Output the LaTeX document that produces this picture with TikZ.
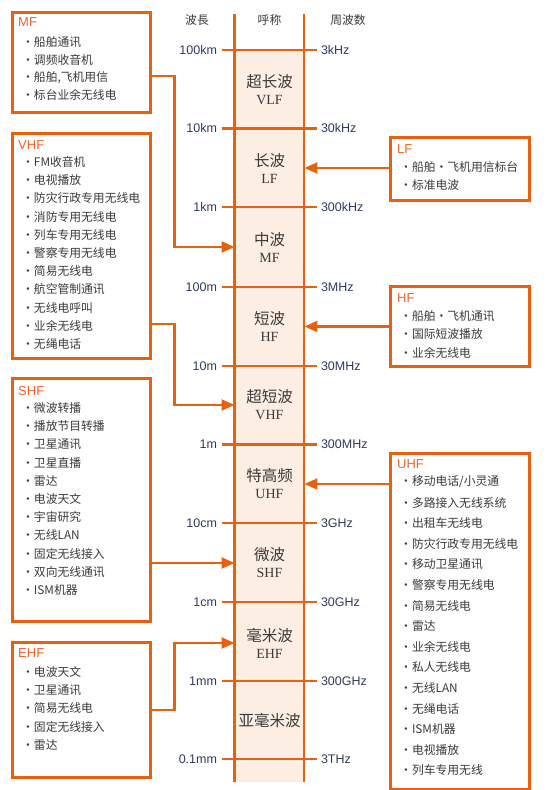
\documentclass[tikz,border=0pt]{standalone}
\usepackage{fontspec}
\setmainfont{Liberation Sans}
\newfontfamily\cjk{Noto Sans CJK SC}
\newfontfamily\serifl{Liberation Serif}
\usetikzlibrary{arrows.meta}
\definecolor{org}{HTML}{E8610E}
\definecolor{bandfill}{HTML}{FDEEE3}
\definecolor{ttl}{HTML}{F0642A}
\definecolor{txt}{HTML}{3A3A3A}
\definecolor{num}{HTML}{2F3B5C}
\begin{document}
\begin{tikzpicture}[x=1pt,y=-1pt,
  infobox/.style={draw=org,line width=2.6pt,inner sep=0,anchor=north west},
  ttlstyle/.style={anchor=west,inner sep=0,text=ttl,font=\fontsize{13}{13}\selectfont},
  itemstyle/.style={anchor=west,inner sep=0,text=txt,font=\cjk\fontsize{11.8}{11.8}\selectfont},
  hdr/.style={inner sep=0,text=txt,font=\cjk\fontsize{11.8}{11.8}\selectfont},
  numL/.style={anchor=east,inner xsep=5pt,inner ysep=0,outer sep=0,text=num,font=\fontsize{12.5}{12.5}\selectfont},
  numR/.style={anchor=west,inner xsep=4pt,inner ysep=0,outer sep=0,text=num,font=\fontsize{12.5}{12.5}\selectfont},
  tick/.style={draw=org,line width=2.6pt},
  colline/.style={draw=org,line width=2.6pt},
  bandname/.style={minimum width=69.5pt,inner sep=0,align=center,text=txt,
     font=\cjk\fontsize{15.5}{18}\selectfont},
  conn/.style={draw=org,line width=2.3pt,-{Triangle[length=13pt,width=11pt]}}
]
\useasboundingbox (0,0) rectangle (550,790);

% column fill
\fill[bandfill] (234.5,50) rectangle (304,782);

% header labels
\node[hdr] (h1) at (197,20) {波長};
\node[hdr] (h2) at (269.5,20) {呼称};
\node[hdr] (h3) at (348,20) {周波数};

% ticks and labels
\foreach \y/\w/\f [count=\i] in {50/100km/3kHz, 128.5/10km/30kHz, 207/1km/300kHz,
   287/100m/3MHz, 366/10m/30MHz, 444.5/1m/300MHz, 523/10cm/3GHz, 602/1cm/30GHz,
   681/1mm/300GHz, 759/0.1mm/3THz}{
  \node[numL] (wl\i) at (222,\y) {\w};
  \node[numR] (fq\i) at (317,\y) {\f};
  \draw[tick] (wl\i.east) -- (fq\i.west);
}

% column side lines
\draw[colline] (234.5,14) -- (234.5,782);
\draw[colline] (304,14) -- (304,782);

% band names
\newcommand{\latb}[1]{{\serifl\fontsize{14}{14}\selectfont #1}}
\node[bandname,minimum height=78pt] (vlf) at (269.5,89.5) {超长波\\[-1pt]\latb{VLF}};
\node[bandname,minimum height=78pt] (lf) at (269.5,168) {长波\\[-1pt]\latb{LF}};
\node[bandname,minimum height=78pt] (mf) at (269.5,247) {中波\\[-1pt]\latb{MF}};
\node[bandname,minimum height=78pt] (hf) at (269.5,326.5) {短波\\[-1pt]\latb{HF}};
\node[bandname,minimum height=78pt] (vhf) at (269.5,405) {超短波\\[-1pt]\latb{VHF}};
\node[bandname,minimum height=78pt] (uhf) at (269.5,484) {特高频\\[-1pt]\latb{UHF}};
\node[bandname,minimum height=78pt] (shf) at (269.5,563) {微波\\[-1pt]\latb{SHF}};
\node[bandname,minimum height=78pt] (ehf) at (269.5,643) {毫米波\\[-1pt]\latb{EHF}};
\node[bandname,minimum height=78pt] (smm) at (269.5,721) {亚毫米波};

% ---- left boxes ----
\node[infobox,minimum width=138pt,minimum height=100pt] (mfbox) at (11,11) {};
\node[ttlstyle] (mft) at (18,22.5) {MF};
\foreach \t [count=\i] in {船舶通讯,调频收音机,{船舶,飞机用信},标台业余无线电}
  \node[itemstyle] (mfi\i) at (22,{42+(\i-1)*17.7}) {・\t};

\node[infobox,minimum width=138pt,minimum height=225pt] (vhfbox) at (11,132) {};
\node[ttlstyle] (vhft) at (18,145) {VHF};
\foreach \t [count=\i] in {FM收音机,电视播放,防灾行政专用无线电,消防专用无线电,列车专用无线电,警察专用无线电,简易无线电,航空管制通讯,无线电呼叫,业余无线电,无绳电话}
  \node[itemstyle] (vhfi\i) at (22,{162+(\i-1)*18.2}) {・\t};

\node[infobox,minimum width=138pt,minimum height=243pt] (shfbox) at (11,377) {};
\node[ttlstyle] (shft) at (18,391) {SHF};
\foreach \t [count=\i] in {微波转播,播放节目转播,卫星通讯,卫星直播,雷达,电波天文,宇宙研究,无线LAN,固定无线接入,双向无线通讯,ISM机器}
  \node[itemstyle] (shfi\i) at (22,{408+(\i-1)*18.2}) {・\t};

\node[infobox,minimum width=138pt,minimum height=135pt] (ehfbox) at (11,641) {};
\node[ttlstyle] (ehft) at (18,653.5) {EHF};
\foreach \t [count=\i] in {电波天文,卫星通讯,简易无线电,固定无线接入,雷达}
  \node[itemstyle] (ehfi\i) at (22,{672+(\i-1)*18.25}) {・\t};

% ---- right boxes ----
\node[infobox,minimum width=139pt,minimum height=63pt] (lfbox) at (389,136) {};
\node[ttlstyle] (lft) at (397,149) {LF};
\foreach \t [count=\i] in {船舶・飞机用信标台,标准电波}
  \node[itemstyle] (lfi\i) at (400,{167+(\i-1)*18}) {・\t};

\node[infobox,minimum width=139pt,minimum height=80pt] (hfbox) at (389,285) {};
\node[ttlstyle] (hft) at (397,298) {HF};
\foreach \t [count=\i] in {船舶・飞机通讯,国际短波播放,业余无线电}
  \node[itemstyle] (hfi\i) at (400,{316+(\i-1)*18.5}) {・\t};

\node[infobox,minimum width=139pt,minimum height=336pt] (uhfbox) at (389,452) {};
\node[ttlstyle] (uhft) at (397,464) {UHF};
\foreach \t [count=\i] in {移动电话/小灵通,多路接入无线系统,出租车无线电,防灾行政专用无线电,移动卫星通讯,警察专用无线电,简易无线电,雷达,业余无线电,私人无线电,无线LAN,无绳电话,ISM机器,电视播放,列车专用无线}
  \node[itemstyle] (uhfi\i) at (400,{482+(\i-1)*20.6}) {・\t};

% ---- connectors ----
\draw[conn] ([yshift=-14pt]mfbox.east) -- ++(23,0) |- (mf.west);
\draw[conn] ([yshift=-78.5pt]vhfbox.east) -- ++(23,0) |- (vhf.west);
\draw[conn] (shfbox.east |- shf.west) -- (shf.west);
\draw[conn] (ehfbox.east) -- ++(23,0) |- (ehf.west);
\draw[conn] (lfbox.west |- lf.east) -- (lf.east);
\draw[conn] (hfbox.west |- hf.east) -- (hf.east);
\draw[conn] (uhfbox.west |- uhf.east) -- (uhf.east);
\end{tikzpicture}
\end{document}
